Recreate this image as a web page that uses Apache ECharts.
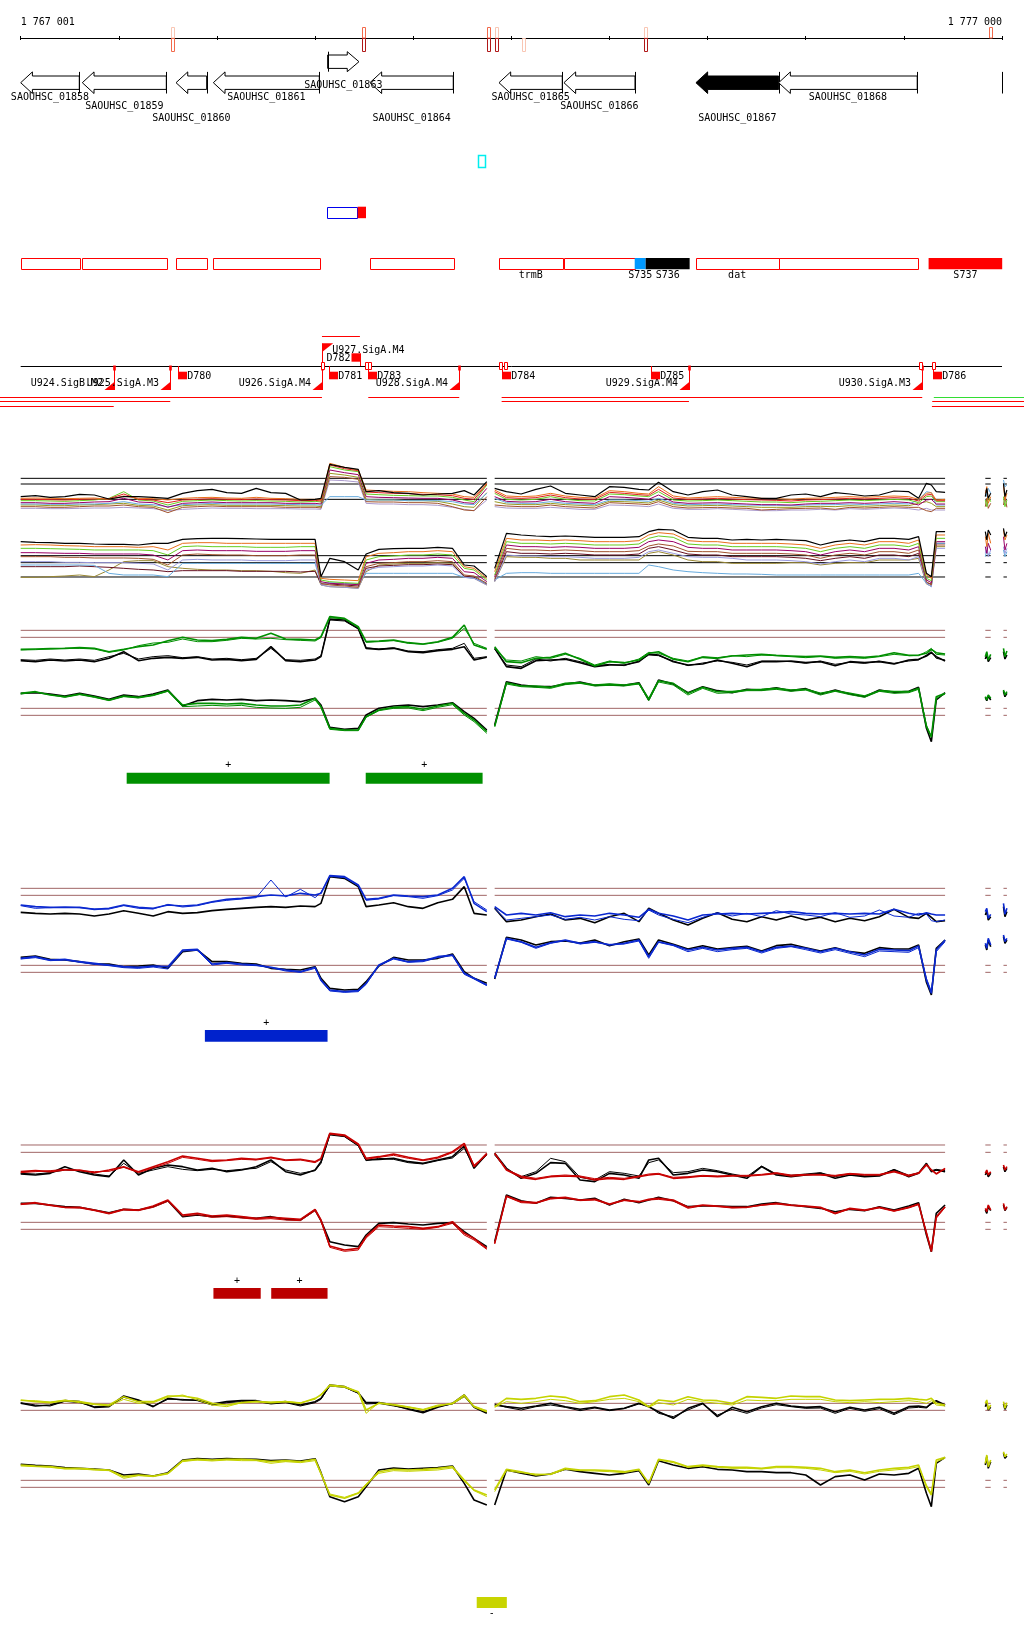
<!DOCTYPE html>
<html><head><meta charset="utf-8">
<script src="https://cdn.jsdelivr.net/npm/echarts/dist/echarts.min.js"></script>
<style>html,body{margin:0;padding:0;background:#fff}#c{width:1024px;height:1640px}</style>
</head><body><div id="c"></div>
<script>
// ---------------- DATA ----------------
const START = 1767000;
const REGION_LEN = 10000;
const AXIS_LABELS = ['1 767 001', '1 777 000'];
const TICK_INTERVAL = 1000;

// sample positions (bp offset from START) of the signal tracks
const POS_L = [0,150,300,450,600,750,900,1050,1200,1350,1500,1650,1800,1950,2100,2250,2400,2550,2700,2850,3000,3060,3150,3300,3440,3520,3650,3800,3950,4100,4250,4400,4520,4620,4750];
const POS_R = [4830,4950,5100,5250,5400,5550,5700,5850,6000,6150,6300,6400,6500,6650,6800,6950,7100,7250,7400,7550,7700,7850,8000,8150,8300,8450,8600,8750,8900,9050,9150,9230,9280,9330,9420];
const POS_FA = [9830,9845,9860,9885];
const POS_FB = [10015,10030,10050];
const SEGMENTS = [[0,4750],[4830,9420],[9830,9885],[10015,10050]];

// axis marks (intensity levels: 0 none, 1 pale, 2 orange, 3 dark)
const AXIS_MARK_POS  = [1768555,1770498,1771772,1771853,1772129,1773369,1776887];
const AXIS_MARK_UP   = [1,2,2,1,0,1,2];
const AXIS_MARK_DOWN = [2,3,3,3,1,3,0];

// genes
const GENE_NAMES  = ['SAOUHSC_01858','SAOUHSC_01859','SAOUHSC_01860','SAOUHSC_01861','SAOUHSC_01863','SAOUHSC_01864','SAOUHSC_01865','SAOUHSC_01866','SAOUHSC_01867','SAOUHSC_01868'];
const GENE_START  = [1767000,1767628,1768583,1768963,1770128,1770559,1771874,1772536,1773881,1774724];
const GENE_END    = [1767597,1768484,1768895,1770043,1770447,1771408,1772519,1773260,1774724,1776136];
const GENE_STRAND = ['-','-','-','-','+','-','-','-','-','-'];
const SELECTED_GENE = 'SAOUHSC_01867';
const GENE_EDGE = [1776997];

// misc features
const CYAN_FEATURE = [1771663, 1771738];
const BLUE_FEATURE = [1770124, 1770434];
const RED_FEATURE  = [1770434, 1770519];

// annotated regions
const REGION_START = [1767000,1767625,1768583,1768960,1770559,1771874,1772536,1773257,1773369,1773878,1774724,1776252];
const REGION_END   = [1767601,1768488,1768895,1770047,1771412,1772523,1773257,1773369,1773817,1774724,1776136,1777002];
const REGION_TYPE  = ['o','o','o','o','o','o','o','b','k','o','o','r'];
const REGION_LABEL = ['','','','','','trmB','','S735','S736','dat','','S737'];

// promoters / terminators
const PROM_NAME   = ['U924.SigB.M2','U925.SigA.M3','U926.SigA.M4','U927.SigA.M4','U928.SigA.M4','U929.SigA.M4','U930.SigA.M3'];
const PROM_POS    = [1767948,1768524,1770070,1770070,1771469,1773810,1776187];
const PROM_STRAND = ['-','-','-','+','-','-','-'];
const TERM_NAME   = ['D780','D781','D782','D783','D784','D785','D786'];
const TERM_POS    = [1768606,1770139,1770457,1770542,1771901,1773423,1776299];
const TERM_STRAND = ['-','-','+','-','-','-','-'];
const ANCHOR_POS  = [1770080,1770526,1770553,1771885,1771936,1776171,1776302];

// transcription units
const TU_START  = [1770070,1766000,1770542,1771901,1776305,1766000,1771901,1776289,1766000,1776286];
const TU_END    = [1770457,1770070,1771469,1776187,1778000,1768524,1773810,1778000,1767948,1778000];
const TU_STRAND = ['+','-','-','-','-','-','-','-','-','-'];
const TU_LEVEL  = [0,0,0,0,0,1,1,1,2,2];
const TU_KIND   = ['r','r','r','r','g','r','r','r','r','r'];

// segment bars
const GREEN_BARS = [[1768080,1770148],[1770516,1771707]];
const GREEN_BAR_STRAND = ['+','+'];
const BLUE_BARS = [[1768877,1770127]];
const BLUE_BAR_STRAND = ['+'];
const RED_BARS = [[1768964,1769446],[1769553,1770127]];
const RED_BAR_STRAND = ['+','+'];
const YELLOW_BARS = [[1771647,1771954]];
const YELLOW_BAR_STRAND = ['-'];

// thresholds
const MT_THRESH = [115,98,52];
const MB_THRESH = [113,92,49];
const GT_THRESH = [134,113];
const GB_THRESH = [125,104];
const BT_THRESH = [140,119];
const BB_THRESH = [119,98];
const RT_THRESH = [135,113];
const RB_THRESH = [113,92];
const YT_THRESH = [60,39];
const YB_THRESH = [99,78];

// ---- multi-condition panel, upper ----
const MT_BLACK = [60,63,58,60,67,65,53,60,60,58,55,70,78,82,72,70,85,72,70,50,52,55,157,148,142,75,78,72,70,65,68,70,78,65,105,
 85,75,68,82,92,70,65,60,90,88,82,80,103,75,65,75,80,65,60,55,55,65,68,60,72,68,62,65,77,75,55,100,95,75,73,
 60,85,55,70,100,60,80];
const MT_ORANGE = [55,56,55,54,55,56,52,62,55,54,50,55,57,58,56,55,58,55,54,52,52,50,160,148,140,80,78,76,75,72,70,68,60,58,100,
 80,62,60,62,70,62,58,56,78,75,70,68,90,62,56,58,60,58,56,55,54,52,55,56,58,60,58,60,62,60,52,70,72,50,52,
 70,90,40,60,95,50,70];
const MT_RED = [52,52,51,50,52,53,54,68,52,50,42,50,52,54,52,51,53,51,50,48,49,47,155,144,138,74,72,70,69,67,66,63,55,52,98,
 75,57,55,57,65,57,53,52,73,70,66,64,82,56,52,53,55,53,51,50,49,47,50,51,53,55,53,55,57,55,47,65,67,48,48];
const MT_GREEN = [48,48,47,46,48,50,55,75,50,47,35,46,48,50,48,47,48,47,46,44,46,44,150,140,135,68,66,64,63,62,62,58,50,45,95,
 70,52,50,52,60,52,48,47,68,66,62,60,75,50,47,48,50,48,46,44,44,42,45,46,48,50,48,50,52,50,42,60,62,45,45,
 50,30,60,45,60,30,50];
const MT_PURPLE = [42,42,40,40,42,44,45,55,44,42,28,40,42,44,42,42,42,42,40,40,40,38,140,132,126,60,58,57,56,55,55,50,42,40,85,
 60,46,44,45,52,45,42,40,60,58,55,52,65,44,40,41,42,40,38,36,36,35,38,40,40,42,40,42,45,42,35,50,52,38,38];
const MT_LIGHTBLUE = [38,38,37,37,38,38,40,45,38,36,30,36,38,40,38,38,38,38,37,36,36,34,60,60,60,50,50,50,48,48,48,45,38,36,70,
 55,42,40,40,45,40,38,36,50,50,48,46,55,40,36,37,38,36,35,34,34,33,35,36,36,38,36,38,40,38,50,75,72,35,35,
 80,60,85,70,110,90,95];
const MT_OLIVE = [35,35,33,33,35,36,38,40,34,32,20,33,35,36,34,34,34,34,33,32,32,30,130,125,118,52,50,50,48,48,46,38,30,28,72,
 45,38,36,36,40,36,34,32,46,45,43,41,50,36,32,33,34,32,30,28,28,28,30,31,30,33,31,33,35,33,40,45,40,30,30];
const MT_BROWN = [30,30,28,28,30,32,32,35,30,28,12,28,30,32,30,30,30,30,28,28,28,26,120,118,112,45,44,44,42,42,40,30,20,18,60,
 35,32,30,30,35,30,28,26,42,40,38,36,45,30,26,27,28,26,25,20,22,24,25,26,22,28,26,28,30,28,28,18,15,25,25,
 30,55,25,40,35,60,28];
const MT_LAVENDER = [25,25,24,24,25,26,26,28,26,24,18,22,24,26,25,25,24,24,24,23,23,22,110,108,104,40,38,38,36,36,34,28,22,18,50,
 30,26,25,25,28,25,22,22,35,34,32,30,38,25,22,22,24,22,20,18,18,20,20,22,20,24,22,24,26,24,20,25,20,20,20];

// ---- multi-condition panel, lower ----
const MB_BLACK = [155,153,152,150,150,148,147,147,145,150,150,162,164,165,165,164,163,162,162,162,162,50,105,95,70,118,132,134,135,135,138,135,85,82,50,
 75,180,175,172,170,172,170,168,168,168,170,185,192,190,168,165,165,160,162,160,162,160,158,145,155,160,155,165,165,162,170,60,50,185,185,
 185,160,190,175,195,170,185];
const MB_ORANGE = [145,146,145,143,142,140,140,140,138,140,130,150,152,152,150,150,150,150,150,150,150,45,42,40,38,110,120,122,125,125,128,125,80,75,45,
 65,165,160,160,158,160,158,155,155,155,158,175,182,178,158,155,155,150,150,150,150,148,145,135,145,150,145,155,155,150,160,55,45,175,175,
 170,140,180,150,190,160,175];
const MB_GREEN = [135,135,134,133,132,130,130,130,130,128,115,140,142,140,140,140,138,138,138,140,140,40,35,32,30,100,110,112,115,115,118,115,75,70,40,
 55,155,150,150,148,150,148,145,145,145,148,165,172,168,148,145,145,140,140,140,140,138,135,125,135,140,135,145,145,140,150,45,38,165,165];
const MB_PURPLE = [122,122,121,120,120,118,118,118,118,115,100,128,130,128,128,128,126,126,126,128,128,35,30,28,26,90,100,102,105,105,108,105,65,62,35,
 50,145,140,140,138,140,138,135,135,135,138,155,160,155,138,135,135,130,130,130,130,128,125,115,125,130,125,135,135,130,140,40,32,155,155,
 140,120,150,130,170,130,150];
const MB_BROWN = [110,110,110,108,108,106,106,106,105,102,85,115,118,116,115,115,113,113,113,115,115,30,25,22,18,80,90,92,95,95,98,95,55,52,30,
 42,135,130,130,128,130,128,125,125,125,128,142,148,142,126,125,125,120,120,120,120,118,115,105,115,120,115,125,125,120,130,35,25,145,145];
const MB_LAVENDER = [95,95,95,93,93,92,92,92,90,88,70,100,102,100,100,100,98,98,98,100,100,25,20,18,15,70,78,80,82,82,85,82,48,45,25,
 35,115,112,112,110,110,108,105,105,105,108,125,130,120,110,108,108,105,100,100,100,98,95,88,95,100,95,105,105,100,110,30,20,135,135,
 120,150,110,130,140,120,135];
const MB_LIGHTBLUE = [85,85,85,85,85,84,60,55,55,55,50,90,90,90,90,90,90,90,90,90,90,30,32,30,28,60,60,60,60,60,60,60,48,45,30,
 40,60,62,62,60,60,60,60,60,60,60,85,80,70,65,62,60,58,58,57,55,55,55,55,55,55,55,55,55,55,60,30,20,150,150,
 110,130,115,120,130,110,125];
const MB_OLIVE = [48,48,50,52,55,50,70,95,98,98,80,75,72,70,70,68,68,66,62,60,70,25,20,18,15,65,85,88,90,90,92,90,50,45,25,
 35,110,108,108,105,105,100,100,100,100,100,120,125,115,100,95,95,90,90,90,90,92,92,85,90,92,92,100,100,100,105,28,22,140,140];
const MB_MAROON = [80,80,80,80,82,80,78,75,72,70,65,68,68,68,68,66,66,66,66,64,66,28,28,25,22,75,82,84,86,86,88,86,52,48,28,
 38,125,120,120,118,120,118,115,115,115,118,135,140,130,118,115,115,110,110,110,110,108,105,98,105,110,105,115,115,110,120,32,28,150,150];

// ---- green condition ----
const GT_GREEN_A = [77,78,79,80,82,80,70,77,85,90,103,113,105,103,107,113,110,125,108,107,105,115,175,170,145,100,102,105,97,93,100,113,150,90,77,
 85,40,37,50,53,65,47,27,40,37,45,65,70,47,40,53,50,57,60,62,59,57,55,57,53,55,53,57,67,59,60,65,77,67,63,
 55,70,45,62,80,55,72];
const GT_GREEN_B = [75,76,78,80,80,78,68,75,88,96,98,108,100,100,104,110,108,110,106,104,102,112,172,168,142,98,100,103,95,92,98,110,140,95,80,
 80,45,42,55,50,62,50,30,42,35,48,68,65,50,42,55,52,58,55,60,58,55,52,55,50,52,50,55,62,58,58,70,80,62,60];
const GT_BLACK_A = [43,40,45,42,45,40,50,70,43,50,53,50,53,45,47,43,47,85,43,40,45,55,168,165,140,80,77,80,70,67,73,77,85,45,53,
 80,25,20,43,45,47,37,25,30,30,40,63,60,40,30,33,45,35,25,40,40,42,37,40,28,40,37,40,33,45,47,57,67,55,42,
 48,60,40,52,70,48,60];
const GT_BLACK_B = [46,44,48,45,48,44,55,65,48,55,58,52,55,48,50,46,50,80,46,44,48,58,165,162,138,82,78,82,72,70,76,80,95,50,55,
 78,30,25,48,42,50,40,28,32,28,42,60,58,42,28,36,42,38,30,42,42,40,35,42,32,38,35,42,35,42,45,60,70,50,45];
const GB_GREEN_A = [170,175,165,160,168,160,150,162,158,165,178,135,140,140,138,140,135,132,132,135,155,130,65,60,60,100,120,128,130,122,132,140,110,90,55,
 70,202,192,192,188,200,202,195,198,195,200,153,208,200,170,188,175,175,180,182,185,180,182,170,178,170,162,178,175,175,185,70,40,160,170,
 160,150,165,155,180,165,175];
const GB_BLACK_A = [170,172,168,162,170,162,152,165,160,168,180,132,148,152,150,152,148,150,148,145,155,135,68,62,65,105,125,132,135,130,135,142,115,95,60,
 75,205,195,190,190,198,204,194,196,194,202,150,210,198,172,190,178,172,182,180,187,178,184,168,180,168,160,180,173,176,188,65,25,150,172,
 158,148,162,150,176,160,170];
const GB_GREEN_B = [168,174,166,158,166,158,148,160,156,163,176,130,132,134,132,134,128,126,125,128,150,128,62,58,58,98,118,125,126,118,128,136,105,85,50,
 72,198,190,188,185,196,200,192,194,192,198,148,204,195,165,185,170,172,178,178,182,176,180,165,176,166,158,176,170,172,182,75,38,155,168];

// ---- blue condition ----
const BT_BLUE_A = [90,85,83,83,83,77,80,90,83,80,90,87,90,100,107,110,115,120,117,125,120,125,178,175,150,107,110,120,117,115,120,140,175,95,70,
 85,60,65,60,67,55,60,57,65,60,53,77,65,57,45,60,63,65,63,65,67,70,65,63,65,63,65,63,77,65,60,67,63,60,60,
 70,80,50,62,95,62,80];
const BT_BLUE_B = [88,80,82,84,82,78,78,88,80,78,92,84,88,98,104,108,112,165,114,137,112,128,176,172,148,104,108,118,115,110,118,135,170,100,75,
 80,45,50,55,60,47,53,45,55,47,43,75,60,47,37,53,67,57,65,55,73,63,60,55,67,53,57,75,57,53,65,63,43,40,45];
const BT_BLACK_A = [68,65,63,65,63,57,63,73,65,57,70,65,67,73,77,80,83,85,83,87,85,95,175,170,145,85,90,97,85,80,97,107,145,65,60,
 80,40,45,55,63,45,50,37,55,65,40,80,65,45,30,50,67,47,40,55,45,57,45,53,40,50,43,55,77,53,50,65,53,40,43,
 60,72,45,55,85,55,70];
const BB_BLUE_A = [140,145,135,137,130,125,120,115,113,117,115,165,167,123,127,123,120,113,105,100,113,75,45,40,43,65,120,140,130,133,145,150,95,80,60,
 80,200,190,173,187,195,185,190,180,185,195,145,190,180,165,173,165,170,173,160,173,177,170,160,170,160,150,167,165,163,177,75,35,165,195,
 185,170,200,180,210,190,200];
const BB_BLACK_A = [143,147,137,135,130,123,123,115,117,120,110,160,165,130,130,125,123,110,107,105,115,80,50,45,47,70,117,143,135,135,140,153,100,80,65,
 78,203,195,180,190,192,186,195,178,190,198,150,195,182,168,178,168,172,176,162,178,182,172,162,172,160,155,172,168,168,180,68,30,170,195,
 180,165,195,175,205,185,195];
const BB_BLUE_B = [138,142,133,135,128,122,118,112,110,114,108,162,164,120,125,120,118,112,102,98,110,72,42,38,40,62,118,138,128,130,142,148,92,78,58,
 82,198,188,170,185,193,183,188,182,183,192,140,188,178,160,170,160,166,170,156,170,175,166,156,166,155,145,162,160,158,172,80,40,160,190];

// ---- red condition ----
const RT_RED_A = [55,58,55,60,60,52,60,70,55,70,85,102,95,88,90,95,92,98,90,92,85,95,170,165,138,95,100,108,98,90,98,115,140,70,110,
 110,60,38,32,40,42,40,30,35,32,40,45,48,35,38,42,40,42,42,45,50,42,45,45,42,48,45,45,55,42,50,75,60,48,65,
 50,60,45,55,75,60,70];
const RT_RED_B = [52,55,58,62,58,55,56,68,52,66,80,98,92,85,88,92,90,96,88,90,82,92,168,162,135,92,98,104,95,88,95,112,135,75,105,
 108,62,42,35,42,45,42,34,38,35,42,48,50,38,40,44,42,44,44,47,52,45,47,47,44,50,47,47,57,45,52,78,62,50,62];
const RT_BLACK_A = [48,45,50,70,55,45,40,90,45,65,75,70,60,65,55,60,70,90,55,45,60,85,168,162,135,90,92,95,85,80,90,100,132,65,108,
 110,65,35,50,82,80,30,25,50,45,35,90,95,45,50,60,55,45,35,70,45,40,45,50,35,45,40,42,60,40,50,80,55,60,55,
 45,55,40,50,70,55,65];
const RT_BLACK_B = [50,48,52,60,58,48,42,80,50,60,70,62,58,62,58,62,65,85,60,50,58,80,165,160,132,88,95,92,82,78,88,96,125,70,105,
 105,62,40,55,95,85,38,30,55,50,42,82,90,52,55,65,58,48,40,72,48,44,48,52,40,48,42,44,62,44,52,78,58,62,58];
const RB_RED_A = [168,172,165,158,158,150,140,152,150,162,180,135,140,132,135,130,125,128,125,122,152,120,42,30,35,70,105,102,100,95,100,115,80,65,35,
 50,192,175,172,185,188,180,182,168,180,175,182,185,180,158,165,162,158,158,165,170,165,162,158,140,155,150,158,148,158,168,80,25,130,160,
 155,145,165,150,170,150,160];
const RB_BLACK_A = [170,170,165,160,158,150,142,152,150,160,178,130,135,130,132,128,125,130,122,120,150,118,55,45,40,75,110,112,108,105,110,112,85,65,40,
 55,195,178,170,188,185,180,185,165,182,172,180,188,178,160,162,162,160,160,168,172,165,160,155,145,152,148,160,150,162,172,75,25,140,165,
 150,140,160,148,165,148,158];
const RB_RED_B = [166,170,163,157,156,148,138,150,148,158,176,132,136,128,130,126,122,124,120,118,148,116,38,26,30,66,100,98,95,92,98,110,75,60,32,
 48,190,172,170,183,186,178,180,166,178,174,180,182,177,155,163,160,156,158,164,168,163,160,156,138,153,148,156,146,156,166,85,30,125,158];

// ---- yellow condition ----
const YT_YEL_A = [70,65,62,68,65,58,55,80,65,65,82,82,75,60,55,62,65,62,65,60,75,85,115,110,95,40,60,55,48,40,52,60,85,50,35,
 50,75,72,75,82,78,65,68,80,85,70,50,70,65,80,70,68,60,80,78,75,82,80,80,70,68,70,72,72,75,72,70,75,60,55,
 60,70,42,55,65,45,62];
const YT_YEL_B = [68,68,64,70,62,56,52,72,60,62,78,85,70,55,50,62,66,64,66,62,72,88,112,108,93,30,62,57,50,42,55,58,80,52,38,
 48,65,60,65,72,68,60,65,72,75,65,48,62,55,72,65,60,55,70,68,68,72,72,72,65,62,65,62,65,68,65,60,68,55,52];
const YT_BLACK_A = [60,52,55,68,65,48,50,82,70,50,75,70,70,58,65,68,68,60,65,55,65,75,115,110,92,62,62,55,42,32,48,60,85,48,30,
 55,50,45,52,60,50,42,48,40,45,60,50,35,15,45,60,20,48,35,50,60,52,48,50,35,48,40,48,30,50,52,48,60,68,55,
 50,62,40,48,58,42,55];
const YT_BLACK_B = [62,55,52,66,62,50,52,78,68,52,72,72,68,55,62,65,66,58,62,52,62,72,112,108,90,58,60,52,44,35,50,58,80,50,32,
 58,48,40,50,55,48,38,46,38,44,58,52,30,20,40,58,25,42,30,46,56,50,45,46,30,45,36,44,26,46,48,46,58,65,52];
const YB_YEL_A = [145,142,140,135,135,132,130,110,115,112,120,158,162,160,162,162,160,155,158,155,162,120,55,45,60,85,125,132,130,132,135,140,100,70,55,
 70,132,125,115,118,135,130,130,128,125,132,90,162,155,140,145,140,138,138,135,140,140,138,135,125,130,122,130,135,138,145,80,55,160,168,
 150,175,140,160,185,170,178];
const YB_BLACK_A = [147,144,142,137,135,133,130,115,118,112,122,160,164,162,164,163,162,158,160,157,164,122,50,35,50,80,130,136,133,135,137,142,90,40,25,
 25,130,120,112,118,132,125,120,115,120,128,85,158,145,135,140,132,130,125,125,122,122,115,85,110,115,100,118,115,120,135,60,20,150,168,
 145,170,135,155,180,165,172];
const YB_YEL_B = [142,140,138,133,133,130,128,105,113,110,118,155,160,157,160,158,158,150,155,152,158,118,58,48,62,88,120,128,126,128,130,136,96,68,50,
 65,128,122,118,116,132,128,127,125,122,130,92,160,152,138,142,138,135,135,133,137,137,135,130,122,126,118,126,130,134,140,85,60,155,165];

// ---------------- LAYOUT / STYLE ----------------
const FONT = '10px "DejaVu Sans Mono", "Liberation Mono", monospace';
const PXBP = 981.3 / 10000;
const GL = 20.7;
const SPAN = 10200;
const LAY = { axisY: 38, fwdY: 61.7, revY: 82.7, labelRows: [97, 106.7, 118.3], fwdLabelY: 85,
  cyan: [155, 166.7], blueRed: [206.7, 217.7], region: [258, 268.7], regionLabelY: 275, promLine: 366 };
const GENE_LABEL_ROW = { 'SAOUHSC_01858':0,'SAOUHSC_01859':1,'SAOUHSC_01860':2,'SAOUHSC_01861':0,'SAOUHSC_01864':2,
  'SAOUHSC_01865':0,'SAOUHSC_01866':1,'SAOUHSC_01867':2,'SAOUHSC_01868':0 };
const MARK_COLORS = [null, '#f9c6b4', '#f26a4c', '#b01818'];
const RED = '#ff0000';
const BROWN = '#a06666';

const grids = [], xAxes = [], yAxes = [], series = [];

// grid 0 : annotation + coordinate axis
grids.push({ left: GL, top: LAY.axisY, width: REGION_LEN * PXBP, height: 380 });
xAxes.push({ gridIndex: 0, type: 'value', position: 'top', min: START, max: START + REGION_LEN, interval: TICK_INTERVAL,
  axisLine: { show: true, onZero: false, lineStyle: { color: '#000', width: 1 } },
  axisTick: { show: true, length: 2, lineStyle: { color: '#000', width: 1 } },
  splitLine: { show: false },
  axisLabel: { show: true, margin: 11, color: '#000', fontFamily: '"DejaVu Sans Mono", monospace', fontSize: 10,
    alignMinLabel: 'left', alignMaxLabel: 'right', showMinLabel: true, showMaxLabel: true,
    formatter: v => v === START ? AXIS_LABELS[0] : (v === START + REGION_LEN ? AXIS_LABELS[1] : '') } });
yAxes.push({ gridIndex: 0, type: 'value', min: 0, max: 1, show: false });
// grid 1 : downward half of ticks
grids.push({ left: GL, top: LAY.axisY, width: REGION_LEN * PXBP, height: 10 });
xAxes.push({ gridIndex: 1, type: 'value', position: 'top', min: START, max: START + REGION_LEN, interval: TICK_INTERVAL,
  axisLine: { show: false, onZero: false }, axisTick: { show: true, inside: true, length: 2, lineStyle: { color: '#000' } },
  axisLabel: { show: false }, splitLine: { show: false } });
yAxes.push({ gridIndex: 1, type: 'value', min: 0, max: 1, show: false });

function addGrid(top, height, ymax) {
  const idx = grids.length;
  grids.push({ left: GL, top: top, width: SPAN * PXBP, height: height });
  xAxes.push({ gridIndex: idx, type: 'value', min: START, max: START + SPAN, show: false, axisLine: { onZero: false } });
  yAxes.push({ gridIndex: idx, type: 'value', min: 0, max: ymax, show: false });
  return idx;
}

function lineData(vals) {
  const pts = [];
  POS_L.forEach((p, i) => pts.push([START + p, vals[i]]));
  pts.push([START + 4790, '-']);
  POS_R.forEach((p, i) => pts.push([START + p, vals[POS_L.length + i]]));
  const base = POS_L.length + POS_R.length;
  if (vals.length > base) {
    pts.push([START + 9600, '-']);
    POS_FA.forEach((p, i) => pts.push([START + p, vals[base + i]]));
    pts.push([START + 9950, '-']);
    POS_FB.forEach((p, i) => pts.push([START + p, vals[base + POS_FA.length + i]]));
  }
  return pts;
}
function threshData(v) {
  const pts = [];
  SEGMENTS.forEach((s, k) => {
    if (k) pts.push([START + (SEGMENTS[k - 1][1] + s[0]) / 2, '-']);
    pts.push([START + s[0], v], [START + s[1], v]);
  });
  return pts;
}

const GREEN = '#008f00', BLUE = '#0a28d0', DRED = '#c80000', YEL = '#c5d300';
const SUBPANELS = [
  { key: 'mt', top: 456.67, h: 60, max: 180, thr: MT_THRESH, thrColor: '#000', lines: [
    [MT_LAVENDER, '#aa99cc', 1], [MT_BROWN, '#a0522d', 1], [MT_OLIVE, '#999922', 1], [MT_LIGHTBLUE, '#66aadd', 1], [MT_PURPLE, '#990066', 1],
    [MT_GREEN, '#66cc22', 1], [MT_RED, '#e02020', 1], [MT_ORANGE, '#e8701c', 1], [MT_BLACK, '#000', 1.2]] },
  { key: 'mb', top: 530, h: 63.33, max: 190, thr: MB_THRESH, thrColor: '#000', lines: [
    [MB_OLIVE, '#998833', 1], [MB_MAROON, '#661122', 1], [MB_LIGHTBLUE, '#66aadd', 1], [MB_LAVENDER, '#9999dd', 1],
    [MB_BROWN, '#a0522d', 1], [MB_PURPLE, '#990066', 1], [MB_GREEN, '#66cc22', 1], [MB_ORANGE, '#e8701c', 1], [MB_BLACK, '#000', 1.2]] },
  { key: 'gt', top: 610, h: 65, max: 195, thr: GT_THRESH, thrColor: BROWN, lines: [
    [GT_BLACK_B, '#000', 1], [GT_BLACK_A, '#000', 1.6], [GT_GREEN_B, GREEN, 1], [GT_GREEN_A, GREEN, 1.6]] },
  { key: 'gb', top: 675, h: 75, max: 225, thr: GB_THRESH, thrColor: BROWN, lines: [
    [GB_BLACK_A, '#000', 1.6], [GB_GREEN_B, GREEN, 1], [GB_GREEN_A, GREEN, 1.6]] },
  { key: 'bt', top: 870, h: 65, max: 195, thr: BT_THRESH, thrColor: BROWN, lines: [
    [BT_BLACK_A, '#000', 1.6], [BT_BLUE_B, BLUE, 1], [BT_BLUE_A, BLUE, 1.6]] },
  { key: 'bb', top: 935, h: 70, max: 210, thr: BB_THRESH, thrColor: BROWN, lines: [
    [BB_BLACK_A, '#000', 1.6], [BB_BLUE_B, BLUE, 1], [BB_BLUE_A, BLUE, 1.6]] },
  { key: 'rt', top: 1128.33, h: 61.67, max: 185, thr: RT_THRESH, thrColor: BROWN, lines: [
    [RT_BLACK_B, '#000', 1], [RT_BLACK_A, '#000', 1.6], [RT_RED_B, DRED, 1], [RT_RED_A, DRED, 1.6]] },
  { key: 'rb', top: 1190, h: 70, max: 210, thr: RB_THRESH, thrColor: BROWN, lines: [
    [RB_BLACK_A, '#000', 1.6], [RB_RED_B, DRED, 1], [RB_RED_A, DRED, 1.6]] },
  { key: 'yt', top: 1378.33, h: 45, max: 135, thr: YT_THRESH, thrColor: BROWN, lines: [
    [YT_BLACK_B, '#000', 1], [YT_BLACK_A, '#000', 1.6], [YT_YEL_B, YEL, 1], [YT_YEL_A, YEL, 1.6]] },
  { key: 'yb', top: 1450, h: 63.33, max: 190, thr: YB_THRESH, thrColor: BROWN, lines: [
    [YB_BLACK_A, '#000', 1.6], [YB_YEL_B, YEL, 1], [YB_YEL_A, YEL, 1.6]] }
];
const GRID_OF = {};
SUBPANELS.forEach(sp => {
  const g = addGrid(sp.top, sp.h, sp.max);
  GRID_OF[sp.key] = g;
  sp.thr.forEach(v => series.push({ type: 'line', xAxisIndex: g, yAxisIndex: g, data: threshData(v), symbol: 'none',
    lineStyle: { color: sp.thrColor, width: 1 }, silent: true, animation: false, clip: false, z: 2 }));
  sp.lines.forEach(l => series.push({ type: 'line', xAxisIndex: g, yAxisIndex: g, data: lineData(l[0]), symbol: 'none',
    connectNulls: false, lineStyle: { color: l[1], width: l[2] }, silent: true, animation: false, clip: false, z: 3 }));
});

// ---------------- annotation renderers ----------------
const xc = (api, v) => api.coord([v, 0])[0];
const cr = v => Math.round(v) + 0.5;
function txt(s, x, y, align) {
  return { type: 'text', style: { text: s, x: x, y: y, fill: '#000', font: FONT, align: align || 'center', verticalAlign: 'middle' } };
}
function custom(gridIdx, data, fn, z) {
  series.push({ type: 'custom', xAxisIndex: gridIdx, yAxisIndex: gridIdx, data: data, renderItem: fn,
    silent: true, animation: false, clip: false, z: z || 5 });
}

// axis marks
custom(0, AXIS_MARK_POS.map((p, i) => [p, i]), (params, api) => {
  const i = api.value(1), x = xc(api, api.value(0));
  const ch = [];
  if (AXIS_MARK_UP[i]) ch.push({ type: 'rect', shape: { x: cr(x - 2), y: 27.5, width: 3, height: 10.5 },
    style: { fill: '#fff', stroke: MARK_COLORS[AXIS_MARK_UP[i]], lineWidth: 1 } });
  if (AXIS_MARK_DOWN[i]) ch.push({ type: 'rect', shape: { x: cr(x - 2), y: 38.5, width: 3, height: 13 },
    style: { fill: '#fff', stroke: MARK_COLORS[AXIS_MARK_DOWN[i]], lineWidth: 1 } });
  return { type: 'group', children: ch };
}, 6);

// gene arrows
custom(0, GENE_START.map((s, i) => [s, GENE_END[i], i]), (params, api) => {
  const i = api.value(2);
  const x1 = xc(api, api.value(0)), x2 = xc(api, api.value(1));
  const fwd = GENE_STRAND[i] === '+';
  const cy = fwd ? LAY.fwdY : LAY.revY;
  const bh = 6.7, hh = fwd ? 10 : 10.8, hl = Math.min(11.7, (x2 - x1) * 0.5);
  let pts, bx;
  if (fwd) { pts = [[x1, cy - bh], [x2 - hl, cy - bh], [x2 - hl, cy - hh], [x2, cy], [x2 - hl, cy + hh], [x2 - hl, cy + bh], [x1, cy + bh]]; bx = x1; }
  else { pts = [[x2, cy - bh], [x1 + hl, cy - bh], [x1 + hl, cy - hh], [x1, cy], [x1 + hl, cy + hh], [x1 + hl, cy + bh], [x2, cy + bh]]; bx = x2; }
  const filled = GENE_NAMES[i] === SELECTED_GENE;
  return { type: 'group', children: [
    { type: 'polygon', shape: { points: pts }, style: { fill: filled ? '#000' : '#fff', stroke: '#000', lineWidth: 1 } },
    { type: 'line', shape: { x1: cr(bx), y1: cy - hh, x2: cr(bx), y2: cy + hh }, style: { stroke: '#000', lineWidth: 1 } }
  ] };
}, 6);
// gene labels (above arrows)
custom(0, GENE_START.map((s, i) => [s, GENE_END[i], i]), (params, api) => {
  const i = api.value(2);
  const x1 = xc(api, api.value(0)), x2 = xc(api, api.value(1));
  const fwd = GENE_STRAND[i] === '+';
  const ly = fwd ? LAY.fwdLabelY : LAY.labelRows[GENE_LABEL_ROW[GENE_NAMES[i]] || 0];
  return txt(GENE_NAMES[i], (x1 + x2) / 2, ly, 'center');
}, 9);
custom(0, GENE_EDGE.map(p => [p]), (params, api) => {
  const x = cr(xc(api, api.value(0)));
  return { type: 'line', shape: { x1: x, y1: LAY.revY - 10.8, x2: x, y2: LAY.revY + 10.8 }, style: { stroke: '#000', lineWidth: 1 } };
}, 6);

// small features
custom(0, [[CYAN_FEATURE[0], CYAN_FEATURE[1]]], (params, api) => {
  const x1 = xc(api, api.value(0)), x2 = xc(api, api.value(1));
  return { type: 'rect', shape: { x: cr(x1), y: cr(LAY.cyan[0]), width: Math.round(x2 - x1), height: Math.round(LAY.cyan[1] - LAY.cyan[0]) },
    style: { fill: 'none', stroke: '#00eeee', lineWidth: 1.5 } };
});
custom(0, [[BLUE_FEATURE[0], BLUE_FEATURE[1], RED_FEATURE[0], RED_FEATURE[1]]], (params, api) => {
  const b1 = xc(api, api.value(0)), b2 = xc(api, api.value(1)), r1 = xc(api, api.value(2)), r2 = xc(api, api.value(3));
  const y0 = LAY.blueRed[0], h = LAY.blueRed[1] - LAY.blueRed[0];
  return { type: 'group', children: [
    { type: 'rect', shape: { x: cr(b1), y: cr(y0), width: Math.round(b2 - b1), height: Math.round(h) }, style: { fill: 'none', stroke: '#0000ee', lineWidth: 1 } },
    { type: 'rect', shape: { x: r1, y: y0, width: r2 - r1, height: h + 0.5 }, style: { fill: RED } }
  ] };
});

// regions
custom(0, REGION_START.map((s, i) => [s, REGION_END[i], i]), (params, api) => {
  const i = api.value(2);
  const x1 = xc(api, api.value(0)), x2 = xc(api, api.value(1));
  const y0 = LAY.region[0], h = LAY.region[1] - LAY.region[0];
  const t = REGION_TYPE[i];
  const ch = [];
  if (t === 'o') ch.push({ type: 'rect', shape: { x: cr(x1), y: cr(y0), width: Math.round(x2 - x1), height: Math.round(h) }, style: { fill: 'none', stroke: RED, lineWidth: 1 } });
  else ch.push({ type: 'rect', shape: { x: x1, y: y0, width: x2 - x1, height: h + 0.5 }, style: { fill: t === 'b' ? '#0099ff' : (t === 'k' ? '#000' : RED) } });
  if (REGION_LABEL[i]) ch.push(txt(REGION_LABEL[i], (x1 + x2) / 2, LAY.regionLabelY, 'center'));
  return { type: 'group', children: ch };
});

// promoter / terminator baseline
custom(0, [[START, START + REGION_LEN]], (params, api) => {
  const x1 = xc(api, api.value(0)), x2 = xc(api, api.value(1));
  return { type: 'line', shape: { x1: x1, y1: cr(LAY.promLine), x2: x2, y2: cr(LAY.promLine) }, style: { stroke: '#000', lineWidth: 1 } };
}, 4);
// transcription units
custom(0, TU_START.map((s, i) => [s, TU_END[i], i]), (params, api) => {
  const i = api.value(2);
  const x1 = Math.max(0, xc(api, api.value(0))), x2 = Math.min(1024, xc(api, api.value(1)));
  const L = LAY.promLine;
  const y = TU_STRAND[i] === '+' ? L - 30 : [L + 31, L + 35.3, L + 40][TU_LEVEL[i]];
  return { type: 'line', shape: { x1: x1, y1: cr(y), x2: x2, y2: cr(y) }, style: { stroke: TU_KIND[i] === 'g' ? '#33dd33' : RED, lineWidth: 1 } };
});
// promoters
custom(0, PROM_POS.map((p, i) => [p, i]), (params, api) => {
  const i = api.value(1), x = cr(xc(api, api.value(0)));
  const L = LAY.promLine;
  if (PROM_STRAND[i] === '-') {
    return { type: 'group', children: [
      { type: 'line', shape: { x1: x, y1: L, x2: x, y2: L + 24 }, style: { stroke: RED, lineWidth: 1 } },
      { type: 'polygon', shape: { points: [[x, L + 15.7], [x, L + 24], [x - 10, L + 24]] }, style: { fill: RED } },
      { type: 'rect', shape: { x: x - 1.3, y: L - 0.5, width: 2.6, height: 5 }, style: { fill: RED } },
      txt(PROM_NAME[i], x - 11.5, L + 17.3, 'right')
    ] };
  }
  return { type: 'group', children: [
    { type: 'line', shape: { x1: x, y1: L - 22.7, x2: x, y2: L }, style: { stroke: RED, lineWidth: 1 } },
    { type: 'polygon', shape: { points: [[x, L - 22.7], [x + 10.7, L - 22.7], [x, L - 14.3]] }, style: { fill: RED } },
    txt(PROM_NAME[i], x + 9.7, L - 15.3, 'left')
  ] };
}, 6);
// terminators
custom(0, TERM_POS.map((p, i) => [p, i]), (params, api) => {
  const i = api.value(1), x = cr(xc(api, api.value(0)));
  const L = LAY.promLine;
  if (TERM_STRAND[i] === '-') {
    return { type: 'group', children: [
      { type: 'line', shape: { x1: x, y1: L, x2: x, y2: L + 6 }, style: { stroke: RED, lineWidth: 1 } },
      { type: 'rect', shape: { x: x - 0.5, y: L + 5.7, width: 9, height: 7.6 }, style: { fill: RED } },
      txt(TERM_NAME[i], x + 8.8, L + 10, 'left')
    ] };
  }
  return { type: 'group', children: [
    { type: 'line', shape: { x1: x, y1: L - 5, x2: x, y2: L }, style: { stroke: RED, lineWidth: 1 } },
    { type: 'rect', shape: { x: x - 9, y: L - 12.7, width: 9.5, height: 8.4 }, style: { fill: RED } },
    txt(TERM_NAME[i], x - 10, L - 7.7, 'right')
  ] };
}, 6);
custom(0, ANCHOR_POS.map(p => [p]), (params, api) => {
  const x = xc(api, api.value(0)), L = LAY.promLine;
  return { type: 'rect', shape: { x: cr(x - 1.5), y: L - 3.5, width: 3, height: 7 }, style: { fill: '#fff', stroke: RED, lineWidth: 1 } };
}, 7);

// segment bars
const BAR_TRACKS = [
  { key: 'gb', bars: GREEN_BARS, strands: GREEN_BAR_STRAND, color: '#009000', y0: 772.7, y1: 783.7 },
  { key: 'bb', bars: BLUE_BARS, strands: BLUE_BAR_STRAND, color: '#0022cc', y0: 1030, y1: 1041.7 },
  { key: 'rb', bars: RED_BARS, strands: RED_BAR_STRAND, color: '#bb0000', y0: 1288, y1: 1298.7 },
  { key: 'yb', bars: YELLOW_BARS, strands: YELLOW_BAR_STRAND, color: '#c8d400', y0: 1597, y1: 1608 }
];
BAR_TRACKS.forEach(bt => {
  custom(GRID_OF[bt.key], bt.bars.map((b, i) => [b[0], b[1], i]), (params, api) => {
    const i = api.value(2);
    const x1 = xc(api, api.value(0)), x2 = xc(api, api.value(1));
    const plus = bt.strands[i] === '+';
    return { type: 'group', children: [
      { type: 'rect', shape: { x: x1, y: bt.y0, width: x2 - x1, height: bt.y1 - bt.y0 }, style: { fill: bt.color } },
      txt(plus ? '+' : '-', (x1 + x2) / 2, plus ? bt.y0 - 7 : bt.y1 + 5.5, 'center')
    ] };
  });
});

const chart = echarts.init(document.getElementById('c'), null, { renderer: 'canvas', width: 1024, height: 1640 });
chart.setOption({
  backgroundColor: '#fff',
  animation: false,
  grid: grids, xAxis: xAxes, yAxis: yAxes,
  series: series
});
</script>
</body></html>
